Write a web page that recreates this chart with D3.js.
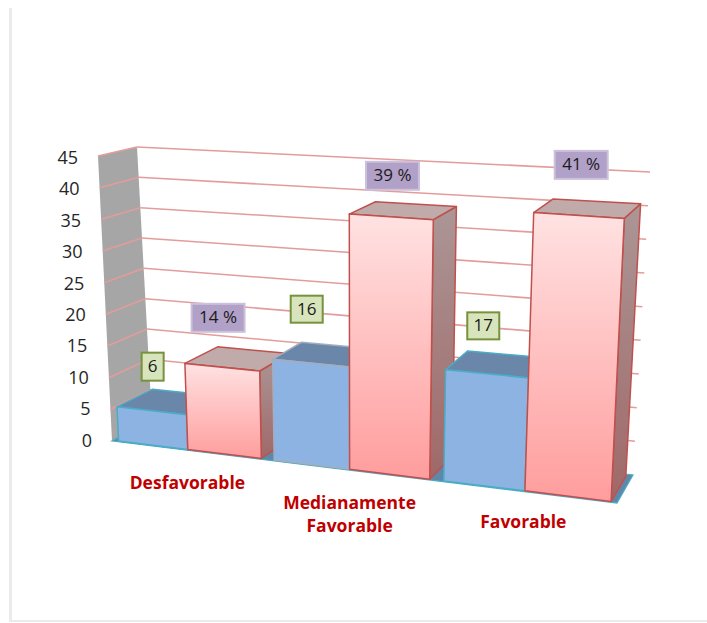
<!DOCTYPE html>
<html><head><meta charset="utf-8">
<script src="https://cdn.jsdelivr.net/npm/d3@7"></script>
<style>html,body{margin:0;padding:0;background:#fff}svg{display:block}</style>
</head><body><div id="c"></div>
<script>
const categories = ["Desfavorable", "Medianamente Favorable", "Favorable"];
const counts = [6, 16, 17];
const percents = [14, 39, 41];
const yTicks = [0, 5, 10, 15, 20, 25, 30, 35, 40, 45];
const W = 707, H = 623;

// Box corners of the 3D plot on screen: f=front, b=back, l=left, r=right, 0=floor, 1=top
const C = {f0l:[112,441],f0r:[617,503],b0l:[152,420],b0r:[633,475],f1l:[98,156],f1r:[632,187],b1l:[137,147],b1r:[650,172]};
const lerp = (a,b,t)=>[a[0]+(b[0]-a[0])*t,a[1]+(b[1]-a[1])*t];
const xWarp = d3.scaleLinear().domain([0,1/3,2/3,1]).range([0,0.3065,0.6405,1]);
const yS = d3.scaleLinear().domain([0,45]).range([0,1]);
const group = d3.scaleBand().domain(categories).range([0,1]).paddingInner(0.08).paddingOuter(0.035);
const blueShare = 0.485;
const zFront = 0.03, zBack = 0.93, topInset = 0.6;
function P(u,v,z){
  const y = yS(v);
  const f = lerp(lerp(C.f0l,C.f0r,u),lerp(C.f1l,C.f1r,u),y);
  const b = lerp(lerp(C.b0l,C.b0r,u),lerp(C.b1l,C.b1r,u),y);
  return lerp(f,b,z);
}
const poly = pts=>"M"+pts.map(p=>p[0].toFixed(1)+","+p[1].toFixed(1)).join("L")+"Z";
const line = (a,b)=>"M"+a[0].toFixed(1)+","+a[1].toFixed(1)+"L"+b[0].toFixed(1)+","+b[1].toFixed(1);

const svg = d3.select("#c").append("svg").attr("width",W).attr("height",H);
const defs = svg.append("defs");
function grad(id,stops){
  const g = defs.append("linearGradient").attr("id",id).attr("x1",0).attr("y1",0).attr("x2",0).attr("y2",1);
  stops.forEach(s=>g.append("stop").attr("offset",s[0]).attr("stop-color",s[1]));
}
grad("redFront",[[0,"#ffe2e2"],[1,"#ff9d9d"]]);
grad("redSide",[[0,"#ac9696"],[1,"#a06868"]]);

svg.append("rect").attr("width",W).attr("height",H).attr("fill","#fff");
// soft page edge at the left and the bottom
svg.append("rect").attr("x",9).attr("y",8).attr("width",3).attr("height",614).attr("fill","#ebebeb");
svg.append("rect").attr("x",12).attr("y",620).attr("width",W-12).attr("height",2).attr("fill","#ebebeb");

// left wall
svg.append("path").attr("d",poly([P(0,0,0),P(0,45,0),P(0,45,1),P(0,0,1)])).attr("fill","#a6a6a6");
// floor
svg.append("path").attr("d",poly([P(0,0,0),P(1,0,0),P(1,0,1),P(0,0,1)])).attr("fill","#5f87a8").attr("stroke","#4bacc6").attr("stroke-width",1.2);
// grid lines
const grid = svg.append("g").attr("fill","none").attr("stroke","#e39c9c").attr("stroke-width",1.6);
yTicks.filter(t=>t>0).forEach(t=>{
  grid.append("path").attr("d",line(P(0,t,0),P(0,t,1)));
  grid.append("path").attr("d",line(P(0,t,1),P(1,t,1)));
});
// y tick labels
svg.append("g").selectAll("text").data(yTicks).join("text")
  .attr("x",t=>P(0,t,0)[0]-20).attr("y",t=>P(0,t,0)[1]+1+t/45*2)
  .attr("text-anchor","end").attr("dominant-baseline","middle")
  .attr("font-family","'Open Sans',sans-serif").attr("font-size",18).attr("fill","#262626")
  .text(t=>t);

// bars
function bar(u0,u1,value,kind,blueStroke){
  const g = svg.append("g");
  const v = value-topInset, zf=zFront, zb=zBack;
  const A=P(u0,0,zf),B=P(u1,0,zf),Cc=P(u1,v,zf),D=P(u0,v,zf);
  const E=P(u1,0,zb),F=P(u1,v,zb),G=P(u0,v,zb);
  const red = kind==="percent";
  const st = red?"#c0504d":blueStroke;
  g.append("path").attr("d",poly([B,E,F,Cc])).attr("fill",red?"url(#redSide)":"#6a87a9").attr("stroke",st).attr("stroke-width",1.5).attr("stroke-linejoin","round");
  g.append("path").attr("d",poly([D,Cc,F,G])).attr("fill",red?"#c0aaaa":"#6a87a9").attr("stroke",st).attr("stroke-width",1.5).attr("stroke-linejoin","round");
  g.append("path").attr("d",poly([A,B,Cc,D])).attr("fill",red?"url(#redFront)":"#8db3e2").attr("stroke",st).attr("stroke-width",1.5).attr("stroke-linejoin","round");
  return {D,Cc,F,G};
}
const tops=[];
categories.forEach((c,i)=>{
  const g0=group(c), bw=group.bandwidth(), mid=g0+bw*blueShare;
  const a=bar(xWarp(g0),xWarp(mid),counts[i],"count",i===1?"#a4adbf":"#4bacc6");
  const b=bar(xWarp(mid),xWarp(g0+bw),percents[i],"percent");
  tops.push([a,b]);
});

// data labels, placed relative to the back-left corner of the bar top
function label(anchor,dx,dy,w,h,txt,fill,stroke,sw){
  const cx=anchor[0]+dx, cy=anchor[1]+dy;
  svg.append("rect").attr("x",cx-w/2).attr("y",cy-h/2).attr("width",w).attr("height",h)
    .attr("fill",fill).attr("stroke",stroke).attr("stroke-width",sw);
  svg.append("text").attr("x",cx).attr("y",cy+1).attr("text-anchor","middle").attr("dominant-baseline","middle")
    .attr("font-family","'Open Sans',sans-serif").attr("font-size",17).attr("fill","#1a1a1a").text(txt);
}
const countShift=[[0,-22.5],[5,-33],[15.5,-25]];
const percentShift=[[0.5,-29],[17,-26],[28,-34]];
categories.forEach((c,i)=>{
  label(tops[i][0].G,countShift[i][0],countShift[i][1],i?32:22,i?27:28,String(counts[i]),"#d8e4bc","#76923c",2);
  label(tops[i][1].G,percentShift[i][0],percentShift[i][1],53,28,percents[i]+" %","#b1a0c7","#ccc1da",2);
});

// category labels
const catLines=[["Desfavorable"],["Medianamente","Favorable"],["Favorable"]];
const catDx=[-1.5,-1.5,-3.5], catDy=[39,38.5,36];
catLines.forEach((ls,i)=>{
  const c=categories[i], g0=group(c);
  const p=P(xWarp(g0+group.bandwidth()/2),0,0);
  const t=svg.append("text").attr("text-anchor","middle")
    .attr("font-family","'Open Sans',sans-serif").attr("font-size",17.5).attr("font-weight",700).attr("fill","#c00000");
  ls.forEach((s,j)=>t.append("tspan").attr("x",p[0]+catDx[i]).attr("y",p[1]+catDy[i]+j*23.5).text(s));
});
</script></body></html>
